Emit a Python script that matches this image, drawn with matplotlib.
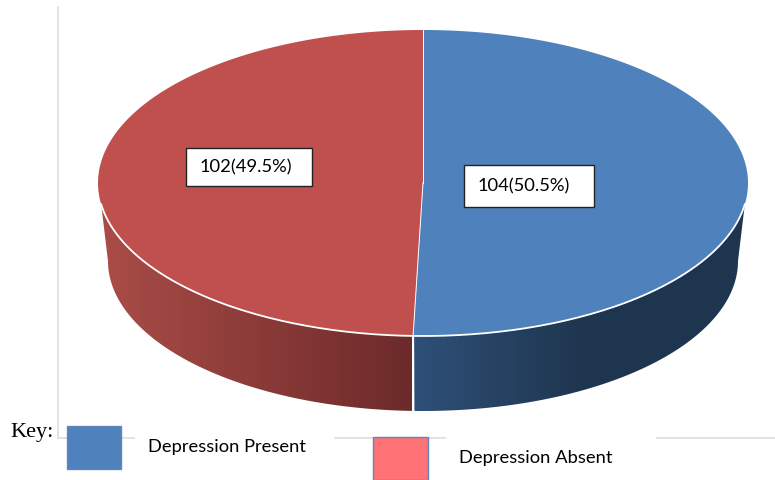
import matplotlib
matplotlib.use("Agg")
import matplotlib.pyplot as plt
import numpy as np
from matplotlib.colors import LinearSegmentedColormap
from matplotlib.patches import Polygon, Rectangle

# Données
categories = ["Depression Present", "Depression Absent"]
counts = [104, 102]
top_colors = ["#4F81BD", "#C0504D"]
key_colors = ["#4F81BD", "#FF7276"]

W, H = 775, 480

# Ellipse du dessus et ellipse du bas du disque (pixels)
TOP = (423, 183, 325, 153)
BOTTOM = (423, 261, 315, 150)


def ellipse_pts(ell, t0, t1, n=200):
    """Points sur l'ellipse, angle en degrés compté depuis midi, sens horaire."""
    cx, cy, a, b = ell
    t = np.radians(np.linspace(t0, t1, n))
    return np.column_stack([cx + a * np.sin(t), cy - b * np.cos(t)])


def gradient_fill(ax, pts, x0, x1, colors, zorder):
    """Remplit un polygone avec un dégradé horizontal."""
    cmap = LinearSegmentedColormap.from_list("side", colors)
    img = ax.imshow(np.linspace(0, 1, 256)[None, :], cmap=cmap, aspect="auto",
                    extent=(x0, x1, H, 0), zorder=zorder, interpolation="bilinear")
    img.set_clip_path(Polygon(pts, closed=True, transform=ax.transData))


fig = plt.figure(figsize=(W / 100, H / 100), dpi=100)
ax = fig.add_axes([0, 0, 1, 1])

# Axes gris clair derrière le disque
grid_color = "#DDDDDD"
ax.plot([58, 58], [7, 438], color=grid_color, lw=1.2, zorder=1)
for x0, x1 in [(58, 134), (335, 445), (657, 775)]:
    ax.plot([x0, x1], [438, 438], color=grid_color, lw=1.2, zorder=1)

total = sum(counts)
split = 360 * counts[0] / total

# Flancs du disque
blue_side = np.vstack([
    ellipse_pts(TOP, 98, split),
    ellipse_pts(BOTTOM, split, 90),
])
gradient_fill(ax, blue_side, 412, 748, ["#2E5078", "#1F3650", "#1E3550"], 2)

red_side = np.vstack([
    ellipse_pts(TOP, split, 262),
    ellipse_pts(BOTTOM, 270, split),
])
gradient_fill(ax, red_side, 98, 412, ["#AB4D48", "#6C2A2A"], 2)

# Dessus du disque
angles = np.cumsum([0] + counts) * 360 / total
cx, cy = TOP[:2]
for i, color in enumerate(top_colors):
    pts = np.vstack([[cx, cy], ellipse_pts(TOP, angles[i], angles[i + 1])])
    ax.add_patch(Polygon(pts, closed=True, fc=color, ec="none", zorder=3))

# Liserés blancs
split_pt = ellipse_pts(TOP, split, split, 1)[0]
low_pt = ellipse_pts(BOTTOM, split, split, 1)[0]
rim = ellipse_pts(TOP, 98, 262)
ax.plot(rim[:, 0], rim[:, 1], color="white", lw=1.3, zorder=4)
ax.plot([cx, split_pt[0]], [cy, split_pt[1]], color="white", lw=0.7, zorder=4)
ax.plot([cx, cx], [cy, TOP[1] - TOP[3]], color="white", lw=0.7, zorder=4)
ax.plot([split_pt[0], low_pt[0]], [split_pt[1], low_pt[1]], color="white", lw=1.5, zorder=4)

# Étiquettes de valeurs
label_boxes = [(464, 165, 130, 42), (186, 148, 126, 38)]
label_x = [524, 246]
for count, (x, y, w, h), tx in zip(counts, label_boxes, label_x):
    ax.add_patch(Rectangle((x, y), w, h, fc="white", ec="#222222", lw=1, zorder=5))
    ax.text(tx, y + h / 2 + 0.5, f"{count}({count / total * 100:.1f}%)", ha="center",
            va="center", fontsize=13.2, family="Lato", color="black", zorder=6)

# Légende
ax.text(10, 433, "Key:", fontsize=16, family="Liberation Serif", ha="left", va="center", color="black")
key_boxes = [(67, 426, 54, 43), (373, 437, 55, 43)]
key_text = [(148, 447), (459, 458)]
for name, color, (x, y, w, h), (tx, ty) in zip(categories, key_colors, key_boxes, key_text):
    ax.add_patch(Rectangle((x, y), w, h, fc=color, ec="#5F86BD", lw=1, zorder=5))
    ax.text(tx, ty, name, fontsize=13.2, family="Lato", ha="left", va="center", color="black", zorder=6)

ax.set_xlim(0, W)
ax.set_ylim(H, 0)
ax.axis("off")

fig.savefig("out.png", dpi=100)
plt.close(fig)
